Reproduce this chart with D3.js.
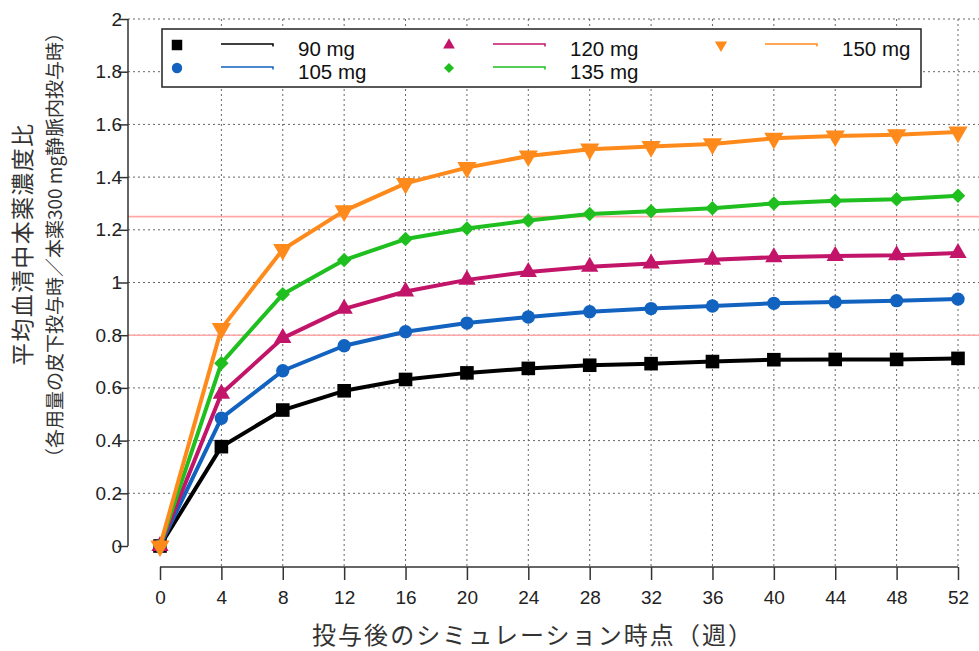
<!DOCTYPE html>
<html>
<head>
<meta charset="utf-8">
<script src="https://cdn.jsdelivr.net/npm/d3@7"></script>
<style>
  body { margin: 0; background: #fff; }
  svg text { font-family: "Liberation Sans", Arial, sans-serif; }
</style>
</head>
<body>
<svg id="chart" width="979" height="651"></svg>
<script>
// weeks after dosing
const weeks = [0, 4, 8, 12, 16, 20, 24, 28, 32, 36, 40, 44, 48, 52];
const yTicks = [0, 0.2, 0.4, 0.6, 0.8, 1, 1.2, 1.4, 1.6, 1.8, 2];
const refLines = [0.8, 1.25];

// mean serum concentration ratio per dose
const dose90  = [0, 0.377, 0.516, 0.589, 0.632, 0.657, 0.674, 0.686, 0.692, 0.700, 0.707, 0.708, 0.708, 0.712];
const dose105 = [0, 0.485, 0.665, 0.760, 0.813, 0.846, 0.869, 0.889, 0.901, 0.911, 0.921, 0.926, 0.931, 0.937];
const dose120 = [0, 0.578, 0.789, 0.900, 0.966, 1.010, 1.040, 1.060, 1.072, 1.086, 1.096, 1.101, 1.103, 1.112];
const dose135 = [0, 0.694, 0.955, 1.085, 1.165, 1.205, 1.235, 1.260, 1.270, 1.282, 1.300, 1.310, 1.316, 1.329];
const dose150 = [0, 0.825, 1.125, 1.272, 1.376, 1.436, 1.480, 1.506, 1.516, 1.526, 1.547, 1.556, 1.561, 1.571];

const seriesNames = ["90 mg", "105 mg", "120 mg", "135 mg", "150 mg"];
const seriesValues = [dose90, dose105, dose120, dose135, dose150];

const colors = ["#000000", "#1262c0", "#c2156a", "#1fbf1f", "#ff8a1c"];
const symbols = [d3.symbolSquare, d3.symbolCircle, d3.symbolTriangle, d3.symbolSquare, d3.symbolTriangle];
const symSize = [185, 140, 130, 105, 160];
const symRotate = [0, 0, 0, 45, 180];
const legSize = [110, 85, 60, 50, 65];

const svg = d3.select("#chart");

const x = d3.scaleLinear().domain([0, 52]).range([160, 958]);
const y = d3.scaleLinear().domain([0, 2]).range([546, 19]);

// grid
const grid = svg.append("g")
  .attr("stroke", "#666").attr("stroke-width", 1).attr("stroke-dasharray", "2,3");
grid.selectAll(".hg").data(yTicks.filter(d => d > 0)).enter().append("line")
  .attr("x1", 128).attr("x2", 979)
  .attr("y1", d => y(d)).attr("y2", d => y(d));
grid.selectAll(".vg").data(weeks.filter(d => d > 0)).enter().append("line")
  .attr("x1", d => x(d)).attr("x2", d => x(d))
  .attr("y1", y(2)).attr("y2", 567);

// reference lines
svg.append("g").selectAll("line").data(refLines).enter().append("line")
  .attr("x1", 128).attr("x2", 979)
  .attr("y1", d => y(d)).attr("y2", d => y(d))
  .attr("stroke", "#ffa8a8").attr("stroke-width", 1.6);

// y axis
const yAxis = svg.append("g")
  .attr("transform", "translate(128,0)")
  .call(d3.axisLeft(y).tickValues(yTicks).tickSize(10).tickPadding(-4).tickFormat(d3.format("")));
yAxis.select(".domain").attr("stroke", "#333").attr("stroke-width", 1.5).attr("d", "M0," + y(0) + "V" + y(2));
yAxis.selectAll(".tick line").attr("stroke", "#333").attr("stroke-width", 1.5);
yAxis.selectAll(".tick text").attr("font-size", 19).attr("fill", "#222")
  .attr("font-family", "Liberation Sans, Arial, sans-serif");

// x axis
const xAxis = svg.append("g")
  .attr("transform", "translate(0,567)")
  .call(d3.axisBottom(x).tickValues(weeks).tickSize(13).tickPadding(11));
xAxis.select(".domain").attr("stroke", "#333").attr("stroke-width", 1.5).attr("d", "M" + x(0) + ",0H" + x(52));
xAxis.selectAll(".tick line").attr("stroke", "#333").attr("stroke-width", 1.5);
xAxis.selectAll(".tick text").attr("font-size", 19).attr("fill", "#222")
  .attr("font-family", "Liberation Sans, Arial, sans-serif");

// series
const line = d3.line().x((d, i) => x(weeks[i])).y(d => y(d));
seriesValues.forEach((vals, k) => {
  const g = svg.append("g");
  g.append("path").datum(vals)
    .attr("d", line).attr("fill", "none")
    .attr("stroke", colors[k]).attr("stroke-width", 4).attr("stroke-linejoin", "round");
  g.selectAll("path.m").data(vals).enter().append("path")
    .attr("class", "m")
    .attr("d", d3.symbol().type(symbols[k]).size(symSize[k]))
    .attr("transform", (d, i) => "translate(" + x(weeks[i]) + "," + y(d) + ") rotate(" + symRotate[k] + ")")
    .attr("fill", colors[k]);
});

// legend
const legend = svg.append("g");
legend.append("rect")
  .attr("x", 162).attr("y", 29).attr("width", 759).attr("height", 58)
  .attr("fill", "#fff").attr("stroke", "#222").attr("stroke-width", 1.5);
const legPos = [[177, 45], [177, 68], [449, 45], [449, 68], [721, 45]];
seriesNames.forEach((name, k) => {
  const [lx, ly] = legPos[k];
  legend.append("path")
    .attr("d", d3.symbol().type(symbols[k]).size(legSize[k]))
    .attr("transform", "translate(" + lx + "," + ly + ") rotate(" + symRotate[k] + ")")
    .attr("fill", colors[k]);
  legend.append("path")
    .attr("d", "M" + (lx + 44) + "," + (ly - 1) + "H" + (lx + 96) + "v2.5")
    .attr("fill", "none")
    .attr("stroke", colors[k]).attr("stroke-width", 1.5);
  legend.append("text")
    .attr("x", lx + 121).attr("y", ly + 11)
    .attr("font-size", 20.5).attr("fill", "#111")
    .text(name);
});

// axis titles
svg.append("text")
  .attr("x", 532).attr("y", 644)
  .attr("text-anchor", "middle")
  .attr("font-size", 24).attr("fill", "#333")
  .attr("textLength", 440).attr("lengthAdjust", "spacing")
  .style("font-family", "'Noto Sans CJK JP', sans-serif")
  .text("投与後のシミュレーション時点（週）");

const yTitle = svg.append("g").attr("transform", "translate(0,245) rotate(-90)");
yTitle.append("text")
  .attr("x", 0).attr("y", 31)
  .attr("text-anchor", "middle")
  .attr("font-size", 23).attr("fill", "#333")
  .attr("textLength", 242).attr("lengthAdjust", "spacing")
  .style("font-family", "'Noto Sans CJK JP', sans-serif")
  .text("平均血清中本薬濃度比");
yTitle.append("text")
  .attr("x", 0).attr("y", 62)
  .attr("text-anchor", "middle")
  .attr("font-size", 19).attr("fill", "#333")
  .style("font-family", "'Noto Sans CJK JP', sans-serif")
  .text("（各用量の皮下投与時／本薬300 mg静脈内投与時）");
</script>
</body>
</html>
